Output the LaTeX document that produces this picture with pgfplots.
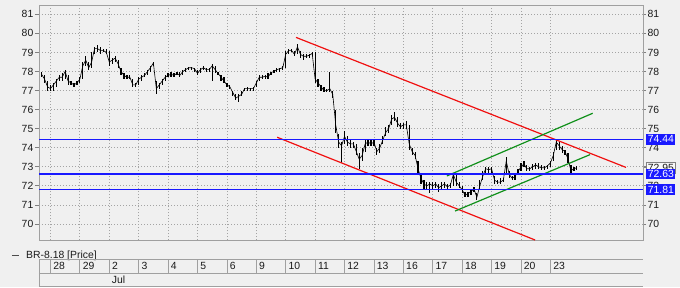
\documentclass[border=0pt]{standalone}
\usepackage{pgfplots}
\pgfplotsset{compat=1.18}
\usepackage{pgfplotstable}
\usepackage{fontspec}
\setmainfont{Liberation Sans}
\definecolor{bg}{HTML}{F0F0F0}
\definecolor{frame}{HTML}{A0A0A0}
\definecolor{gridc}{HTML}{A4A4A4}
\definecolor{lblue}{RGB}{25,25,255}
\definecolor{lred}{HTML}{F01010}
\definecolor{lgreen}{HTML}{10901A}
\definecolor{txt}{HTML}{1A1A1A}

\pgfplotstableread{
x c lo hi
-0.3 77.85 77.7 78.0
-0.2 77.6 77.4 77.8
-0.1 77.2 77.0 77.5
0.0 77.1 77.0 77.3
0.1 77.3 77.0 77.4
0.2 77.5 77.2 77.6
0.3 77.7 77.5 77.8
0.4 77.7 77.5 77.9
0.5 78.0 77.6 78.1
0.6 77.5 77.3 77.8
0.7 77.4 77.3 77.5
0.8 77.3 77.2 77.4
0.9 77.4 77.3 77.5
1.0 77.6 77.4 77.7
1.1 78.3 77.6 78.5
1.2 78.6 78.3 78.8
1.3 78.2 78.1 78.5
1.4 78.5 78.2 79.0
1.5 79.2 78.9 79.3
1.6 79.2 79.0 79.4
1.7 79.1 78.9 79.3
1.8 79.1 79.0 79.2
1.9 79.0 78.9 79.2
2.0 78.5 78.3 79.1
2.1 78.6 78.4 78.7
2.2 78.7 78.5 78.8
2.3 78.4 78.2 78.6
2.4 78.0 77.8 78.2
2.5 77.8 77.6 77.9
2.6 77.7 77.6 77.8
2.7 77.7 77.6 77.8
2.8 77.3 77.2 77.6
2.9 77.3 77.2 77.4
3.0 77.6 77.3 77.7
3.1 77.7 77.5 77.8
3.2 77.8 77.7 77.9
3.3 78.0 77.8 78.1
3.4 78.2 78.0 78.3
3.5 78.45 78.3 78.5
3.6 77.1 76.8 77.5
3.7 77.3 77.1 77.4
3.8 77.5 77.3 77.6
3.9 77.7 77.5 77.8
4.0 77.8 77.7 77.9
4.1 77.85 77.7 78.0
4.2 77.8 77.7 77.9
4.3 77.9 77.8 78.0
4.4 77.8 77.7 78.0
4.5 78.0 77.8 78.1
4.6 78.1 78.0 78.2
4.7 78.2 78.1 78.25
4.8 78.2 78.1 78.25
4.9 78.15 78.0 78.2
5.0 77.9 77.8 78.1
5.1 78.1 77.9 78.2
5.2 78.2 78.1 78.3
5.3 78.1 78.0 78.2
5.4 78.1 78.0 78.2
5.5 78.3 77.5 78.4
5.6 78.1 77.9 78.3
5.7 77.9 77.8 78.0
5.8 77.7 77.5 77.8
5.9 77.5 77.4 77.7
6.0 77.3 77.2 77.4
6.1 77.2 77.1 77.3
6.2 76.9 76.7 77.0
6.3 76.6 76.5 76.8
6.4 76.7 76.4 76.8
6.5 76.8 76.7 77.0
6.6 77.1 77.0 77.15
6.7 77.1 77.0 77.2
6.8 77.1 77.0 77.15
6.9 77.1 77.0 77.2
7.0 77.4 77.2 77.5
7.1 77.7 77.5 77.8
7.2 77.7 77.6 77.8
7.3 77.75 77.6 77.8
7.4 77.7 77.6 77.9
7.5 77.95 77.8 78.0
7.6 78.0 77.9 78.1
7.7 78.1 78.0 78.2
7.8 78.15 78.0 78.2
7.9 78.2 78.1 78.3
8.0 78.9 78.2 79.1
8.1 79.1 78.9 79.2
8.2 79.1 79.0 79.2
8.3 78.9 78.8 79.1
8.4 79.3 78.9 79.45
8.5 78.9 78.7 79.1
8.6 78.8 78.6 78.9
8.7 78.8 78.7 78.9
8.8 78.85 78.7 78.9
8.9 78.95 78.8 79.0
9.0 77.6 77.4 79.0
9.1 77.4 77.2 77.6
9.2 77.2 77.0 77.3
9.3 77.0 76.9 77.2
9.4 77.0 76.9 77.1
9.5 77.1 76.9 78.0
9.6 76.8 76.6 77.0
9.7 75.2 74.8 76.0
9.8 74.3 74.0 74.7
9.9 74.1 73.2 74.3
10.0 74.6 74.2 74.9
10.1 74.3 74.1 74.6
10.2 74.2 74.0 74.4
10.3 74.2 74.0 74.3
10.4 73.8 73.6 74.2
10.5 73.4 72.9 73.7
10.6 73.6 73.3 74.0
10.7 74.2 73.8 74.4
10.8 74.3 74.1 74.4
10.9 74.2 74.1 74.4
11.0 74.3 74.1 74.4
11.1 73.8 73.6 74.0
11.2 74.0 73.7 74.2
11.3 74.4 74.2 74.6
11.4 74.8 74.6 75.1
11.5 75.0 74.8 75.2
11.6 75.5 75.2 75.7
11.7 75.6 75.4 75.9
11.8 75.3 75.1 75.6
11.9 75.1 75.0 75.3
12.0 75.2 75.0 75.3
12.1 75.2 75.0 75.4
12.2 74.2 73.9 75.2
12.3 73.8 73.6 74.0
12.4 73.6 73.4 73.8
12.5 72.9 72.7 73.3
12.6 72.4 72.1 72.6
12.7 72.1 71.8 72.3
12.8 72.0 71.8 72.2
12.9 72.1 71.6 72.2
13.0 72.0 71.8 72.2
13.1 72.1 71.9 72.2
13.2 71.9 71.7 72.1
13.3 72.0 71.8 72.2
13.4 72.1 71.9 72.2
13.5 71.95 71.8 72.1
13.6 72.05 71.9 72.15
13.7 72.6 72.0 72.7
13.8 72.2 72.0 72.7
13.9 72.0 71.9 72.2
14.0 71.8 71.6 72.0
14.1 71.5 71.4 71.7
14.2 71.6 71.4 71.7
14.3 71.7 71.5 71.8
14.4 71.85 71.7 71.95
14.5 71.4 71.25 71.6
14.6 72.0 71.8 72.3
14.7 72.5 72.3 72.8
14.8 72.9 72.7 73.0
14.9 72.85 72.7 73.0
15.0 72.9 72.7 73.0
15.1 72.3 72.1 72.5
15.2 72.2 72.1 72.3
15.3 72.2 72.1 72.4
15.4 72.3 72.2 72.4
15.5 73.3 72.6 73.5
15.6 72.6 72.4 72.8
15.7 72.4 72.3 72.5
15.8 72.5 72.3 72.7
15.9 72.75 72.6 72.9
16.0 73.0 72.8 73.2
16.1 73.15 73.0 73.3
16.2 72.9 72.8 73.1
16.3 72.9 72.8 73.0
16.4 73.0 72.85 73.15
16.5 73.1 72.9 73.2
16.6 73.0 72.9 73.2
16.7 72.95 72.85 73.1
16.8 72.95 72.85 73.05
16.9 73.05 72.9 73.1
17.0 73.2 73.0 73.3
17.1 73.6 73.3 73.8
17.2 74.3 73.9 74.4
17.3 74.1 73.9 74.3
17.4 73.9 73.7 74.1
17.5 73.8 73.6 73.9
17.6 73.4 73.2 73.7
17.7 72.8 72.6 73.1
17.8 72.9 72.8 73.0
17.9 72.95 72.85 73.05
}\price

\begin{document}
\begin{tikzpicture}
\fill[bg] (0pt,0pt) rectangle (680pt,287pt);
\useasboundingbox (0pt,0pt) rectangle (680pt,287pt);
\pgfplotsset{every axis/.append style={scale only axis, width=604pt,
  xmin=-0.39, xmax=20.15,
  /pgf/number format/assume math mode=true,
  font=\fontsize{10.4}{12}\selectfont,
  tick label style={text=txt}},
  rightscale/.style={at={(39pt,47pt)}, anchor=south west, height=235pt,
  ymin=69.16, ymax=81.49,
  axis x line=none, axis y line*=right,
  axis line style={frame, line width=0.8pt},
  tick align=outside, major tick length=3pt,
  ytick style={draw=gray, line width=0.8pt}}}

% main price panel
\begin{axis}[at={(39pt,47pt)}, anchor=south west, height=235pt,
  ymin=69.16, ymax=81.49,
  xtick={0,...,17}, xticklabels={}, xtick style={draw=none},
  ytick={70,...,81}, ytick pos=left, tick align=outside, major tick length=4pt,
  ytick style={draw=gray, line width=0.8pt},
  yticklabel style={inner sep=1.5pt},
  grid=major, grid style={gridc, line width=0.8pt, dash pattern=on 1pt off 2pt},
  axis line style={frame, line width=0.8pt},
  axis background/.style={fill=bg},
  legend cell align=left,
  legend style={at={(-0.046,-0.066)}, anchor=west, draw=none, fill=none,
    inner sep=0pt, font=\fontsize{10.4}{12}\selectfont, text=txt,
    /tikz/every odd column/.append style={column sep=5pt}}]
\addplot[black, line width=0.6pt,
  legend image code/.code={\draw[black!70, line width=0.8pt] (0pt,0pt) -- (7pt,0pt);},
  error bars/.cd, y dir=both, y explicit, error mark=none,
  error bar style={line width=1.2pt, black}]
  table[x=x, y=c, y error plus expr=\thisrow{hi}-\thisrow{c},
        y error minus expr=\thisrow{c}-\thisrow{lo}] {\price};
\addlegendentry{BR-8.18 [Price]}
\addplot[lred, line width=1.2pt, forget plot] coordinates {(8.35,79.79) (19.57,72.97)};
\addplot[lred, line width=1.2pt, forget plot] coordinates {(7.71,74.55) (16.48,69.16)};
\addplot[lgreen, line width=1.2pt, forget plot] coordinates {(13.48,72.52) (18.44,75.81)};
\addplot[lgreen, line width=1.2pt, forget plot] coordinates {(13.76,70.68) (18.35,73.64)};
\end{axis}

% right-hand price scale
\begin{axis}[rightscale, ytick={70,...,81}, yticklabel style={inner sep=1.5pt}]
\end{axis}
% last price
\begin{axis}[rightscale, ytick={72.95}, yticklabels={72.95},
  yticklabel style={fill=bg!50!white, draw=gray, inner sep=1.6pt}]
\end{axis}
% horizontal levels with their labels
\begin{axis}[rightscale, ytick={71.81,72.63,74.44}, yticklabels={71.81,72.63,74.44},
  ytick style={draw=none},
  yticklabel style={fill=lblue, text=white, inner sep=1.6pt}]
\addplot[draw=lblue, line width=1.3pt] coordinates {(-0.39,74.44) (20.15,74.44)};
\addplot[draw=lblue, line width=2pt] coordinates {(-0.39,72.63) (20.15,72.63)};
\addplot[draw=lblue, line width=1.4pt] coordinates {(-0.39,71.81) (20.15,71.81)};
\end{axis}

% day row
\begin{axis}[at={(39pt,14pt)}, anchor=south west, height=14pt,
  ymin=0, ymax=1,
  axis lines*=left, axis line style={-, frame, line width=0.8pt},
  xtick={0,...,17},
  xticklabels={28,29,2,3,4,5,6,9,10,11,12,13,16,17,18,19,20,23},
  xtick style={draw=none}, xmajorgrids,
  ytick={1}, yticklabels={}, ytick style={draw=none}, ymajorgrids,
  grid style={frame, solid, line width=0.8pt},
  xticklabel style={anchor=west, inner sep=0pt, xshift=2.7pt, yshift=7pt}]
\end{axis}

% month row
\begin{axis}[at={(39pt,0.5pt)}, anchor=south west, height=13.5pt,
  ymin=0, ymax=1,
  axis lines*=left, axis line style={-, frame, line width=0.8pt},
  xtick={2}, xticklabels={Jul}, xtick style={draw=none},
  ytick=\empty,
  xticklabel style={anchor=west, inner sep=0pt, xshift=2.4pt, yshift=6.75pt}]
\end{axis}
\end{tikzpicture}
\end{document}
